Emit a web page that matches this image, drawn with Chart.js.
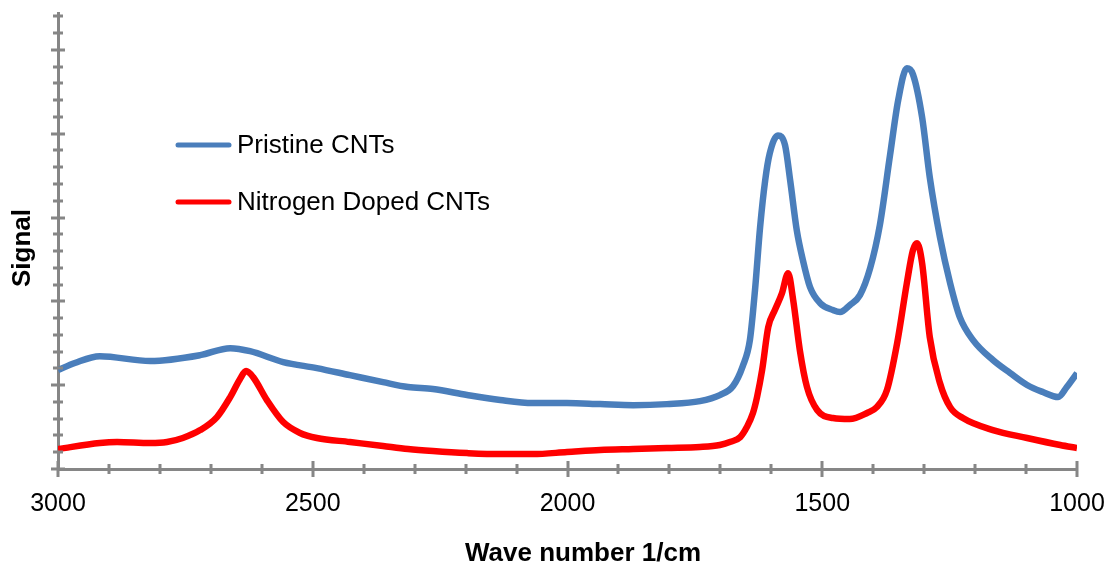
<!DOCTYPE html>
<html>
<head>
<meta charset="utf-8">
<script src="https://cdn.jsdelivr.net/npm/chart.js@4"></script>
<style>
  body{margin:0;background:#fff;}
</style>
</head>
<body>
<canvas id="ramanChart" width="1116" height="569"></canvas>
<script>
// Raman spectra (wave number in 1/cm, signal in arbitrary units)
const blueWave = [3000,2967,2918,2819,2721,2662,2623,2558,2492,2427,2362,2313,2264,2197,2132,2068,2001,1936,1871,1805,1740,1701,1675,1656,1642,1632,1622,1612,1603,1587,1573,1563,1550,1538,1524,1504,1479,1465,1446,1426,1406,1387,1367,1351,1334,1322,1304,1289,1269,1249,1230,1204,1165,1131,1098,1067,1037,1020,1000];
const blueSignal = [5.90,6.32,6.73,6.44,6.79,7.21,7.03,6.38,6.02,5.60,5.18,4.89,4.77,4.41,4.11,3.93,3.93,3.87,3.81,3.87,4.05,4.41,4.95,6.14,7.69,10.67,14.42,17.22,18.83,19.90,19.31,17.22,14.24,12.46,10.85,9.89,9.48,9.36,9.77,10.37,11.98,14.54,18.71,21.99,23.90,23.54,20.98,17.40,13.83,11.08,9.06,7.69,6.50,5.72,5.01,4.59,4.29,4.89,5.72];

const redWave = [3000,2918,2884,2819,2786,2755,2721,2688,2662,2643,2631,2617,2590,2558,2525,2492,2427,2362,2313,2264,2197,2132,2068,2001,1936,1871,1805,1740,1701,1680,1661,1648,1636,1628,1618,1606,1593,1579,1567,1557,1544,1530,1510,1479,1446,1412,1393,1373,1353,1334,1322,1314,1304,1289,1269,1249,1224,1165,1098,1033,1000];
const redSignal = [1.19,1.55,1.61,1.55,1.61,1.85,2.32,3.10,4.29,5.36,5.84,5.48,4.11,2.80,2.15,1.85,1.61,1.37,1.19,1.07,0.95,0.89,0.89,1.01,1.13,1.19,1.25,1.31,1.43,1.62,1.90,2.50,3.34,4.29,5.90,8.46,9.48,10.49,11.68,10.07,7.09,4.89,3.52,3.04,2.98,3.34,3.69,4.71,7.51,11.08,13.05,13.47,12.28,7.87,5.13,3.69,3.04,2.32,1.85,1.43,1.25];

const seriesNames = ['Pristine CNTs', 'Nitrogen Doped CNTs'];
const seriesColors = ['#4a7ebb', '#ff0000'];
const xLabels = [3000, 2500, 2000, 1500, 1000];
const xMinorStep = 100;
const yMinorStep = 1, yMajorStep = 5, yMax = 27.2;
const xTitle = 'Wave number 1/cm', yTitle = 'Signal';

const axisColor = '#868686';
const fontFamily = "'Liberation Sans', Arial, sans-serif";

function toPoints(xs, ys){ return xs.map((x,i)=>({x:x, y:ys[i]})); }

// tick marks cross the axis line (Excel style), majors a bit longer; legend + titles placed like the original
const extras = {
  id:'extras',
  afterDraw(chart){
    const ctx = chart.ctx, xs = chart.scales.x, ys = chart.scales.y;
    const yAxis = ys.bottom, xAxis = xs.left;
    ctx.save();
    ctx.strokeStyle = axisColor;
    ctx.lineWidth = 3;
    ctx.beginPath();
    for(let v=xs.min; v<=xs.max; v+=xMinorStep){
      const px = Math.round(xs.getPixelForValue(v));
      const len = xLabels.includes(v) ? 8 : 5;
      ctx.moveTo(px, yAxis-len); ctx.lineTo(px, yAxis+len);
    }
    for(let v=0; v<=yMax; v+=yMinorStep){
      const py = Math.round(ys.getPixelForValue(v));
      const len = (v % yMajorStep === 0) ? 7 : 5;
      ctx.moveTo(xAxis-len, py); ctx.lineTo(xAxis+len, py);
    }
    ctx.stroke();

    // legend inside the plot
    ctx.font = '26px ' + fontFamily;
    ctx.textBaseline = 'middle';
    ctx.textAlign = 'left';
    ctx.lineCap = 'round';
    const rows = [145, 202];
    chart.data.datasets.forEach((ds,i)=>{
      ctx.strokeStyle = ds.borderColor;
      ctx.lineWidth = 5;
      ctx.beginPath(); ctx.moveTo(178, rows[i]); ctx.lineTo(229, rows[i]); ctx.stroke();
      ctx.fillStyle = '#000';
      ctx.fillText(ds.label, 237, rows[i]+1);
    });

    // axis titles
    ctx.font = 'bold 26px ' + fontFamily;
    ctx.textAlign = 'center';
    ctx.fillText(xTitle, 583, 554);
    ctx.translate(23, 248);
    ctx.rotate(-Math.PI/2);
    ctx.fillText(yTitle, 0, 0);
    ctx.restore();
  }
};

const ctx = document.getElementById('ramanChart').getContext('2d');
const chart = new Chart(ctx, {
  type:'line',
  data:{
    datasets:[
      {label:seriesNames[0], data:toPoints(blueWave, blueSignal), borderColor:seriesColors[0], borderWidth:6.5, pointRadius:0, cubicInterpolationMode:'monotone', fill:false},
      {label:seriesNames[1], data:toPoints(redWave, redSignal), borderColor:seriesColors[1], borderWidth:6.5, pointRadius:0, cubicInterpolationMode:'monotone', fill:false}
    ]
  },
  options:{
    responsive:false,
    animation:false,
    layout:{padding:{top:13, right:39, left:0, bottom:0}},
    plugins:{legend:{display:false}, tooltip:{enabled:false}},
    scales:{
      x:{
        type:'linear', reverse:true, min:1000, max:3000,
        grid:{display:false, drawTicks:false},
        border:{display:true, color:axisColor, width:3},
        ticks:{stepSize:xMinorStep, autoSkip:false, maxRotation:0, padding:20, color:'#000',
          font:{family:fontFamily, size:25},
          callback:(v)=> xLabels.includes(v) ? String(v) : ''},
        title:{display:false},
        afterFit:(s)=>{ s.height = 100; s.paddingLeft = 0; s.paddingRight = 0; }
      },
      y:{
        min:0, max:yMax,
        grid:{display:false, drawTicks:false},
        border:{display:true, color:axisColor, width:3},
        ticks:{display:false},
        title:{display:false},
        afterFit:(s)=>{ s.width = 58; s.paddingTop = 0; s.paddingBottom = 0; }
      }
    }
  },
  plugins:[extras]
});
</script>
</body>
</html>
